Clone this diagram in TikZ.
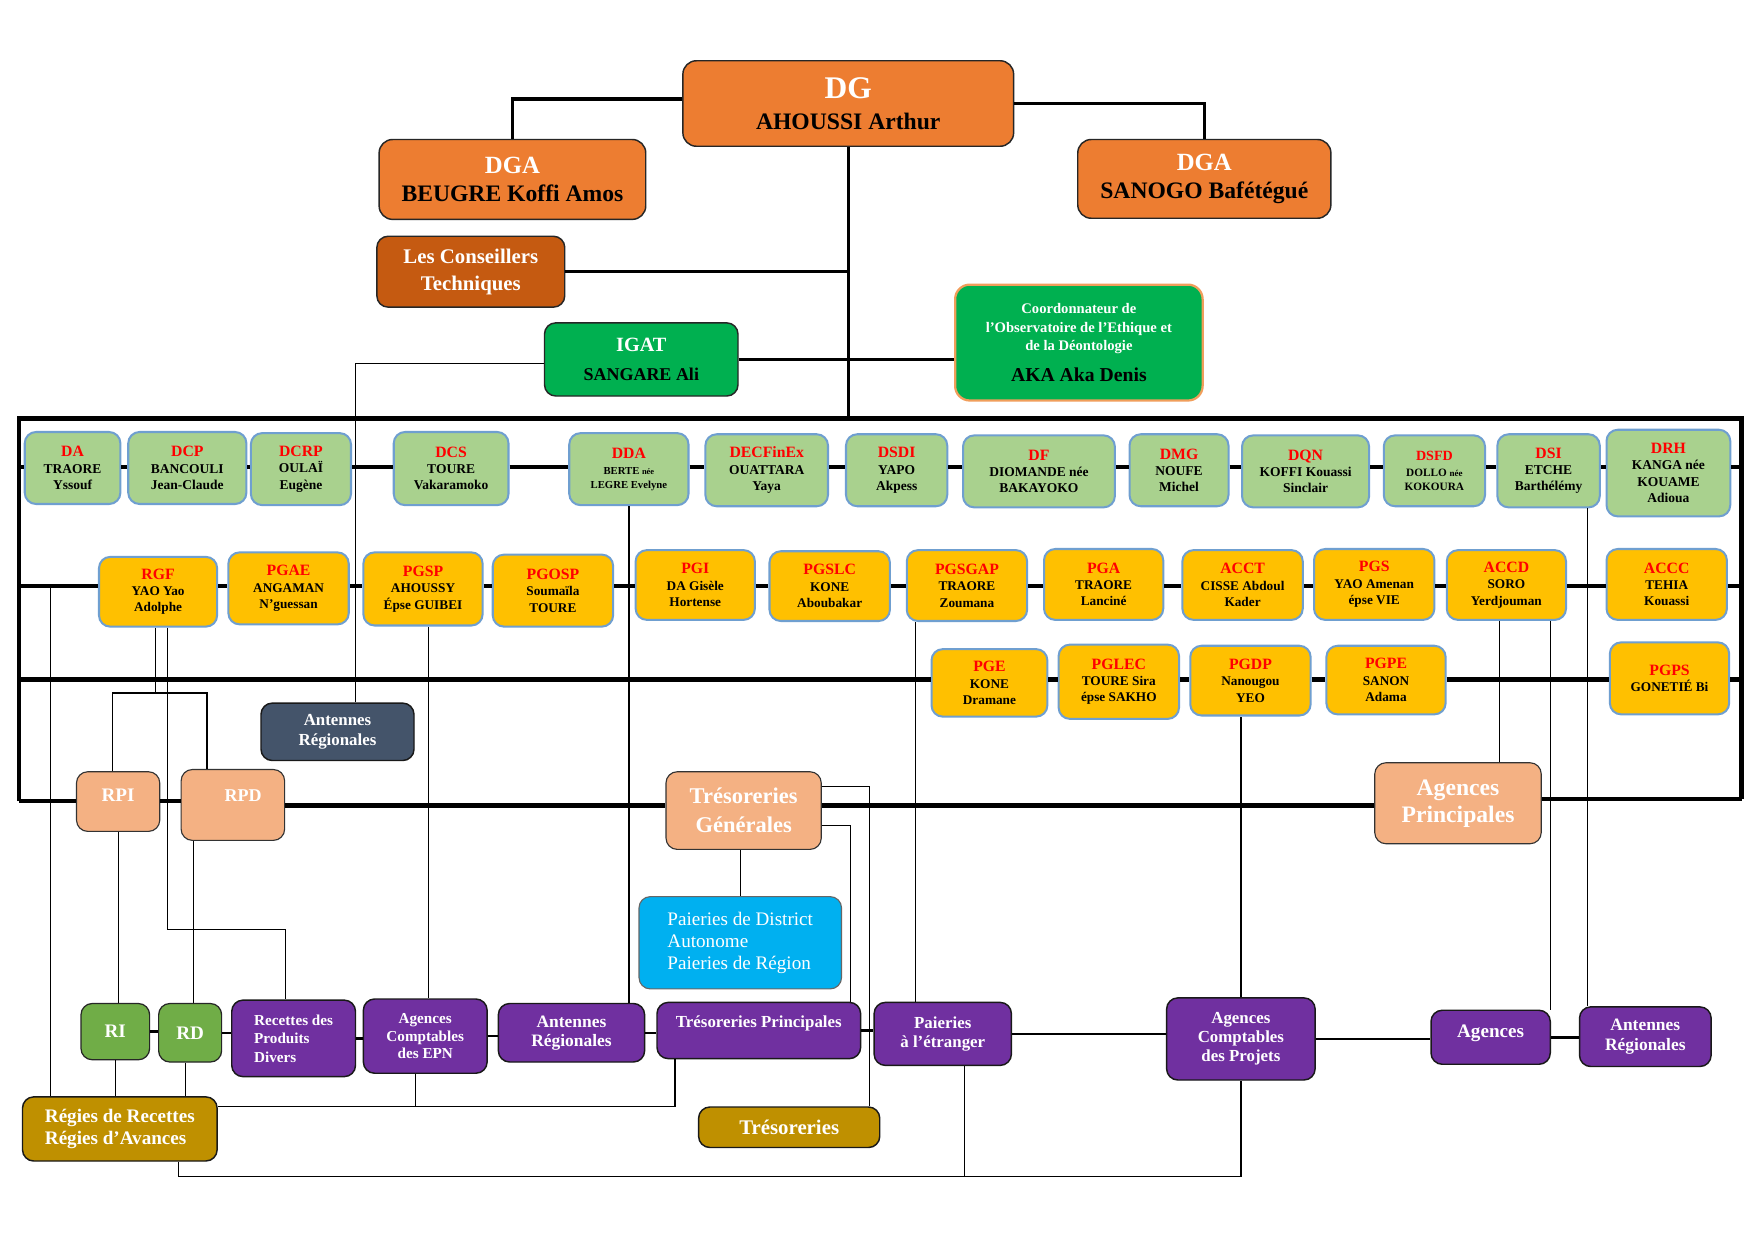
\documentclass[tikz,border=0pt]{standalone}
\usepackage{fontspec}
\setmainfont{Liberation Serif}
\usetikzlibrary{calc}
\definecolor{orng}{HTML}{ED7D31}
\definecolor{dorng}{HTML}{C55A11}
\definecolor{grn}{HTML}{00B050}
\definecolor{lgrn}{HTML}{A9D18E}
\definecolor{yel}{HTML}{FFC000}
\definecolor{bblue}{HTML}{6F9FD0}
\definecolor{slate}{HTML}{44546A}
\definecolor{lorng}{HTML}{F4B183}
\definecolor{cyn}{HTML}{00B0F0}
\definecolor{purp}{HTML}{7030A0}
\definecolor{gold}{HTML}{BF9000}
\definecolor{rgrn}{HTML}{70AD47}
\definecolor{cordb}{HTML}{F19E5B}
\newcommand\obox[7]{%
\pgfmathsetmacro\bxw{#4-#2}%
\pgfmathsetmacro\bxh{#5-#3}%
\pgfmathsetmacro\bxx{(#2+#4)/2}%
\pgfmathsetmacro\bxy{(#3+#5)/2}%
\node[#6,minimum width=\bxw pt,minimum height=\bxh pt] (#1) at (\bxx,\bxy) {#7};}
\newcommand\rl[2][14]{{\color{red}\fontsize{#1}{#1}\selectfont #2}}
\tikzset{
 base/.style={rounded corners=10pt, align=center, inner sep=0pt},
 topbox/.style={base, rounded corners=12pt, fill=orng, draw=black!85, line width=1.3pt},
 ctbox/.style={base, fill=dorng, draw=black!85, line width=1.3pt, text=white, font=\bfseries\fontsize{18.5}{24}\selectfont},
 igbox/.style={base, fill=grn, draw=black!85, line width=1.3pt, font=\bfseries\fontsize{16}{26}\selectfont},
 cobox/.style={base, rounded corners=13pt, fill=grn, draw=cordb, line width=2pt, text=white, font=\bfseries\fontsize{13}{16.5}\selectfont},
 rowg/.style={base, fill=lgrn, draw=bblue, line width=1.8pt, font=\bfseries\fontsize{12}{14.5}\selectfont},
 rowy/.style={base, fill=yel, draw=bblue, line width=1.8pt, font=\bfseries\fontsize{11.8}{14.5}\selectfont},
 slbox/.style={base, fill=slate, draw=black!90, line width=1.3pt, text=white, font=\bfseries\fontsize{15}{18}\selectfont},
 lobox/.style={base, fill=lorng, draw=black!80, line width=1pt, text=white, font=\bfseries\fontsize{20}{26}\selectfont},
 cybox/.style={base, fill=cyn, draw=black!60, line width=1pt, text=white, align=left, font=\fontsize{17}{19.5}\selectfont},
 pubox/.style={base, fill=purp, draw=black!90, line width=1.3pt, text=white, font=\bfseries\fontsize{15}{17}\selectfont},
 gnbox/.style={base, fill=rgrn, draw=black!85, line width=1.1pt, text=white, font=\bfseries\fontsize{17}{20}\selectfont},
 gdbox/.style={base, fill=gold, draw=black!90, line width=1.3pt, text=white, font=\bfseries\fontsize{17}{20}\selectfont},
 thk/.style={line width=3.6pt},
 mid/.style={line width=3pt},
 bot/.style={line width=2.2pt},
 thn/.style={line width=1.1pt}
}
\begin{document}
\begin{tikzpicture}[x=1pt,y=-1pt]
\fill[white] (0,0) rectangle (1560,1103);
\useasboundingbox (0,0) rectangle (1560,1103);
% top
\obox{DG}{607}{54}{901}{130}{topbox, font=\bfseries\fontsize{21}{28}\selectfont}{{\color{white}\fontsize{28}{28}\selectfont DG}\\AHOUSSI Arthur}
\obox{DGAl}{337}{124}{574}{195}{topbox, font=\bfseries\fontsize{21}{25}\selectfont}{{\color{white}\fontsize{22}{22}\selectfont DGA}\\BEUGRE Koffi Amos}
\obox{DGAr}{958}{124}{1183}{194}{topbox, font=\bfseries\fontsize{21}{25}\selectfont}{{\color{white}\fontsize{22}{22}\selectfont DGA}\\SANOGO Bafétégué}
\obox{CT}{335}{210}{502}{273}{ctbox}{Les Conseillers\\Techniques}
\obox{IGAT}{484}{287}{656}{352}{igbox}{{\color{white}\fontsize{18}{18}\selectfont IGAT}\\SANGARE Ali}
\obox{Coord}{849}{253}{1069}{356}{cobox}{Coordonnateur de\\l’Observatoire de l’Ethique et\\de la Déontologie\\[11pt]{\color{black}\fontsize{17.5}{17.5}\selectfont AKA Aka Denis}}
% row 1
\obox{DA}{22}{384}{107}{448}{rowg}{\rl{DA}\\TRAORE\\Yssouf}
\obox{DCP}{114}{384}{219}{448}{rowg}{\rl{DCP}\\BANCOULI\\Jean-Claude}
\obox{DCRP}{223}{385}{312}{449}{rowg}{\rl{DCRP}\\OULAÏ\\Eugène}
\obox{DCS}{350}{384}{452}{449}{rowg}{\rl{DCS}\\TOURE\\Vakaramoko}
\obox{DDA}{506}{385}{612}{449}{rowg}{\rl{DDA}\\{\fontsize{9.5}{9.5}\selectfont BERTE {\fontsize{7.5}{7.5}\selectfont née}}\\[-2.5pt]{\fontsize{9.5}{9.5}\selectfont LEGRE Evelyne}}
\obox{DEC}{627}{386}{736}{450}{rowg}{\rl{DECFinEx}\\OUATTARA\\Yaya}
\obox{DSDI}{752}{386}{842}{450}{rowg}{\rl{DSDI}\\YAPO\\Akpess}
\obox{DF}{856}{387}{991}{451}{rowg}{\rl{DF}\\DIOMANDE née\\BAKAYOKO}
\obox{DMG}{1004}{386}{1092}{450}{rowg}{\rl{DMG}\\NOUFE\\Michel}
\obox{DQN}{1104}{387}{1217}{451}{rowg}{\rl{DQN}\\KOFFI Kouassi\\Sinclair}
\obox{DSFD}{1230}{387}{1320}{450}{rowg}{\rl[12.5]{DSFD}\\{\fontsize{10}{10}\selectfont DOLLO {\fontsize{8}{8}\selectfont née}}\\[-2.5pt]{\fontsize{10}{10}\selectfont KOKOURA}}
\obox{DSI}{1331}{386}{1422}{451}{rowg}{\rl{DSI}\\ETCHE\\Barthélémy}
\obox{DRH}{1428}{382}{1538}{459}{rowg}{\rl{DRH}\\KANGA née\\KOUAME\\Adioua}
% row 2
\obox{RGF}{88}{495}{193}{557}{rowy}{\rl{RGF}\\YAO Yao\\Adolphe}
\obox{PGAE}{203}{491}{310}{555}{rowy}{\rl{PGAE}\\ANGAMAN\\N’guessan}
\obox{PGSP}{323}{491}{429}{556}{rowy}{\rl{PGSP}\\AHOUSSY\\Épse GUIBEI}
\obox{PGOSP}{438}{493}{545}{557}{rowy}{\rl{PGOSP}\\Soumaïla\\TOURE}
\obox{PGI}{565}{489}{671}{551}{rowy}{\rl{PGI}\\DA Gisèle\\Hortense}
\obox{PGSLC}{684}{490}{791}{552}{rowy}{\rl{PGSLC}\\KONE\\Aboubakar}
\obox{PGSGAP}{806}{489}{913}{552}{rowy}{\rl{PGSGAP}\\TRAORE\\Zoumana}
\obox{PGA}{928}{488}{1034}{551}{rowy}{\rl{PGA}\\TRAORE\\Lanciné}
\obox{ACCT}{1051}{489}{1158}{551}{rowy}{\rl{ACCT}\\CISSE Abdoul\\Kader}
\obox{PGS}{1168}{488}{1275}{551}{rowy}{\rl{PGS}\\YAO Amenan\\épse VIE}
\obox{ACCD}{1286}{489}{1392}{551}{rowy}{\rl{ACCD}\\SORO\\Yerdjouman}
\obox{ACCC}{1428}{488}{1535}{551}{rowy}{\rl{ACCC}\\TEHIA\\Kouassi}
% row 3
\obox{PGE}{828}{577}{931}{637}{rowy}{\rl{PGE}\\KONE\\Dramane}
\obox{PGLEC}{941}{573}{1048}{639}{rowy}{\rl{PGLEC}\\TOURE Sira\\épse SAKHO}
\obox{PGDP}{1058}{574}{1165}{636}{rowy}{\rl{PGDP}\\Nanougou\\YEO}
\obox{PGPE}{1179}{574}{1285}{635}{rowy}{\rl{PGPE}\\SANON\\Adama}
\obox{PGPS}{1431}{571}{1537}{635}{rowy}{\rl{PGPS}\\GONETIÉ Bi}
% lower
\obox{AR1}{232}{625}{368}{676}{slbox}{Antennes\\Régionales}
\obox{RPI}{68}{686}{142}{739}{lobox, font=\bfseries\fontsize{17}{20}\selectfont, text height=11pt, text depth=12pt}{RPI}
\obox{RPD}{161}{684}{253}{747}{lobox, font=\bfseries\fontsize{16}{20}\selectfont, text height=11pt, text depth=17pt}{\hspace*{18pt}RPD}
\obox{TG}{592}{686}{730}{755}{lobox}{Trésoreries\\Générales}
\obox{AP}{1222}{678}{1370}{750}{lobox, font=\bfseries\fontsize{21}{24}\selectfont}{Agences\\Principales}
\obox{PDA}{568}{797}{748}{879}{cybox}{Paieries de District\\Autonome\\Paieries de Région}
\obox{RI}{72}{892}{133}{942}{gnbox}{RI}
\obox{RD}{141}{892}{197}{944}{gnbox}{RD}
\obox{RRPD}{206}{889}{316}{957}{pubox, align=left, font=\bfseries\fontsize{13.5}{16.5}\selectfont}{Recettes des\\Produits\\Divers}
\obox{ACEPN}{323}{888}{433}{954}{pubox, font=\bfseries\fontsize{13.5}{15.5}\selectfont}{Agences\\Comptables\\des EPN}
\obox{AR2}{443}{892}{573}{944}{pubox, font=\bfseries\fontsize{15.5}{17}\selectfont}{Antennes\\Régionales}
\obox{TP}{584}{891}{765}{941}{pubox, text height=10pt, text depth=16pt}{Trésoreries Principales}
\obox{PaE}{777}{891}{899}{947}{pubox}{Paieries\\à l’étranger}
\obox{ACP}{1037}{887}{1169}{960}{pubox}{Agences\\Comptables\\des Projets}
\obox{Ag}{1272}{898}{1378}{946}{pubox, font=\bfseries\fontsize{17}{20}\selectfont, text height=11pt, text depth=10pt}{Agences}
\obox{AR3}{1404}{895}{1521}{948}{pubox, font=\bfseries\fontsize{15.5}{17}\selectfont}{Antennes\\Régionales}
\obox{Reg}{20}{975}{193}{1032}{gdbox, align=left}{Régies de Recettes\\Régies d’Avances}
\obox{Tres}{621}{984}{782}{1020}{gdbox, font=\bfseries\fontsize{18.5}{20}\selectfont}{Trésoreries}
% coordinates
\coordinate (FTL) at (17,372);
\coordinate (FTR) at (1548,372);
\coordinate (FBL) at (17,712);
\coordinate (FBR) at (1548,710);
\coordinate (R1) at (0,415);
\coordinate (R2) at (0,521);
\coordinate (R3) at (0,604);
\coordinate (RB) at (0,716);
\coordinate (BL) at (0,1046);
% top connectors
\draw[mid] ([yshift=4pt]DG.west) -| (DGAl.north);
\draw[mid] (DG.east) -| (DGAr.north);
\draw[mid] (DG.south) -- (DG.south |- FTL);
\draw[mid] (CT.east) -- (CT.east -| DG.south);
\draw[mid] (IGAT.east) -- (IGAT.east -| Coord.west);
% frame
\draw[thk] (FBL) |- (FTR) -- (FBR);
\draw[thk] (FTL |- R1) -- (DA.west |- R1);
\foreach \a/\b in {DA/DCP,DCP/DCRP,DCRP/DCS,DCS/DDA,DDA/DEC,DEC/DSDI,DSDI/DF,DF/DMG,DMG/DQN,DQN/DSFD,DSFD/DSI,DSI/DRH}
  \draw[thk] (\a.east |- R1) -- (\b.west |- R1);
\draw[thk] (DRH.east |- R1) -- (FTR |- R1);
\draw[thk] (FTL |- R2) -- (RGF.west |- R2);
\foreach \a/\b in {RGF/PGAE,PGAE/PGSP,PGSP/PGOSP,PGOSP/PGI,PGI/PGSLC,PGSLC/PGSGAP,PGSGAP/PGA,PGA/ACCT,ACCT/PGS,PGS/ACCD,ACCD/ACCC}
  \draw[thk] (\a.east |- R2) -- (\b.west |- R2);
\draw[thk] (ACCC.east |- R2) -- (FTR |- R2);
\draw[thk] (FTL |- R3) -- (PGE.west |- R3);
\foreach \a/\b in {PGE/PGLEC,PGLEC/PGDP,PGDP/PGPE,PGPE/PGPS}
  \draw[thk] (\a.east |- R3) -- (\b.west |- R3);
\draw[thk] (PGPS.east |- R3) -- (FTR |- R3);
\draw[thk] (FBL) -- (RPI.west |- FBL);
\draw[thk] (RPI.east |- FBL) -- (RPD.west |- FBL);
\draw[thk] (RPD.east |- RB) -- (TG.west |- RB);
\draw[thk] (TG.east |- RB) -- (AP.west |- RB);
\draw[thk] (AP.east |- FBR) -- (FBR);
% bottom row links
\foreach \a/\b in {RI/RD,RD/RRPD,RRPD/ACEPN,ACEPN/AR2,AR2/TP,TP/PaE,PaE/ACP,ACP/Ag,Ag/AR3}
  \draw[bot] (\a.east) -- (\a.east -| \b.west);
% thin connectors
\coordinate (igw) at ([yshift=-3.5pt]IGAT.west);
\coordinate (ar1n) at ([xshift=16pt]AR1.north);
\draw[thn] (igw) -| (ar1n);
\draw[thn] (DDA.south) -- (DDA.south |- AR2.north);
\coordinate (pgsp) at ([xshift=5pt]PGSP.south);
\draw[thn] (pgsp) -- (pgsp |- ACEPN.north);
\coordinate (J1) at (138,616);
\draw[thn] (RGF.south -| J1) -- (J1);
\coordinate (rpin) at ([xshift=-5pt]RPI.north);
\coordinate (rpdn) at ([xshift=-23pt]RPD.north);
\draw[thn] (rpin) |- (J1) -| (rpdn);
\coordinate (J2) at (149,826);
\coordinate (rrn) at ([xshift=-7pt]RRPD.north);
\draw[thn] (RGF.south -| J2) -- (J2) -| (rrn);
\coordinate (L45) at (45,521);
\draw[thn] (L45) -- (L45 |- Reg.north);
\draw[thn] (RPI.south) -- (RPI.south |- RI.north);
\coordinate (rpds) at ([xshift=-35pt]RPD.south);
\draw[thn] (rpds) -- (rpds |- RD.north);
\draw[thn] (RI.south) -- (RI.south |- Reg.north);
\coordinate (rds) at ([xshift=-4pt]RD.south);
\draw[thn] (rds) -- (rds |- Reg.north);
\coordinate (RegR) at ([yshift=20pt]Reg.east);
\coordinate (tps) at ([xshift=-74.5pt]TP.south);
\draw[thn] (RegR) -| (tps);
\coordinate (aeps) at ([xshift=-9pt]ACEPN.south);
\draw[thn] (aeps) -- (aeps |- RegR);
\coordinate (regs) at ([xshift=52.5pt]Reg.south);
\draw[thn] (regs) |- (ACP.south |- BL) -- (ACP.south);
\coordinate (paes) at ([xshift=19pt]PaE.south);
\draw[thn] (paes) -- (paes |- BL);
\coordinate (tgu) at ([yshift=21.5pt]TG.east);
\coordinate (tresn) at ([xshift=71.5pt]Tres.north);
\draw[thn] (tgu) -| (tresn);
\coordinate (tgl) at ([yshift=-13.5pt]TG.east);
\coordinate (tpn) at ([xshift=81.5pt]TP.north);
\draw[thn] (tgl) -| (tpn);
\draw[thn] (PDA.north) -- (PDA.north |- TG.south);
\coordinate (pgsg) at ([xshift=-45.5pt]PGSGAP.south);
\draw[thn] (pgsg) -- (pgsg |- PaE.north);
\draw[thn] (ACP.north) -- (ACP.north |- PGDP.south);
\coordinate (ac1) at ([xshift=-6pt]ACCD.south);
\draw[thn] (ac1) -- (ac1 |- AP.north);
\coordinate (ac2) at ([xshift=39pt]ACCD.south);
\draw[thn] (ac2) -- (ac2 |- Ag.north);
\coordinate (dsi1) at ([xshift=34.5pt]DSI.south);
\draw[thn] (dsi1) -- (dsi1 |- AR3.north);
\end{tikzpicture}
\end{document}
